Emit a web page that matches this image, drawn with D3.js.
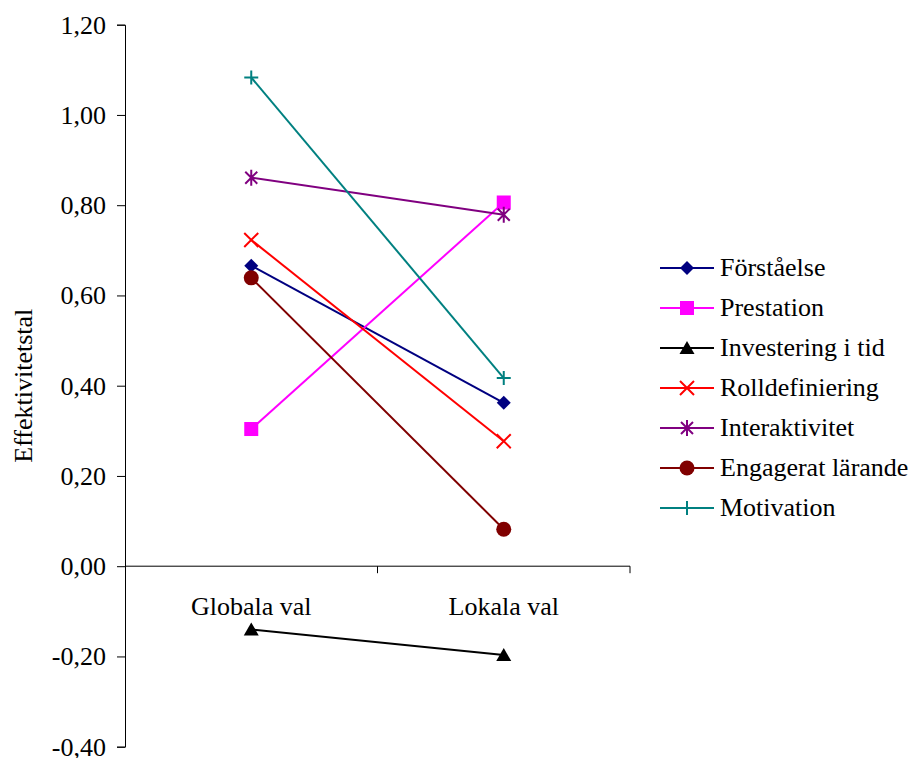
<!DOCTYPE html>
<html>
<head>
<meta charset="utf-8">
<script src="https://cdn.jsdelivr.net/npm/d3@7"></script>
<style>
  body { margin: 0; background: #fff; }
</style>
</head>
<body>
<svg id="chart" width="916" height="758"></svg>
<script>
// Categories on the x axis
const categories = ["Globala val", "Lokala val"];

// Series names, colours and marker shapes
const seriesNames = ["Förståelse", "Prestation", "Investering i tid", "Rolldefiniering", "Interaktivitet", "Engagerat lärande", "Motivation"];
const seriesColors = ["#000080", "#FF00FF", "#000000", "#FF0000", "#800080", "#800000", "#008080"];
const seriesMarkers = ["diamond", "square", "triangle", "x", "asterisk", "circle", "plus"];

// Effektivitetstal per series: [Globala val, Lokala val]
const foerstaaelse = [0.666, 0.362];
const prestation = [0.304, 0.806];
const investering = [-0.140, -0.197];
const rolldefiniering = [0.723, 0.277];
const interaktivitet = [0.861, 0.779];
const engagerat = [0.639, 0.082];
const motivation = [1.083, 0.417];
const seriesValues = [foerstaaelse, prestation, investering, rolldefiniering, interaktivitet, engagerat, motivation];

// Y axis ticks
const yTicks = [-0.4, -0.2, 0, 0.2, 0.4, 0.6, 0.8, 1.0, 1.2];

const FONT = "'Liberation Serif', 'Times New Roman', 'DejaVu Serif', serif";
const FS = 26;

const svg = d3.select("#chart");
const plotLeft = 125, plotRight = 630, plotTop = 24.7, plotBottom = 746.7;

const x = d3.scaleBand().domain(categories).range([plotLeft, plotRight]);
const y = d3.scaleLinear().domain([-0.4, 1.2]).range([plotBottom, plotTop]);
const fmt = v => d3.format(".2f")(v).replace(".", ",").replace("−", "-");

// Y axis
const yAxis = d3.axisLeft(y).tickValues(yTicks).tickSize(8).tickFormat(fmt);
const gy = svg.append("g").attr("transform", `translate(${plotLeft},0)`).call(yAxis)
  .attr("font-family", null).attr("font-size", null);
gy.select(".domain").attr("stroke", "#000").attr("stroke-width", 1);
gy.selectAll(".tick line").attr("stroke", "#000");
gy.selectAll(".tick text").attr("x", -19).attr("fill", "#000")
  .style("font-family", FONT).style("font-size", FS + "px");

// X axis at zero: line with category boundary ticks
const gx = svg.append("g");
gx.append("line").attr("x1", plotLeft).attr("x2", plotRight).attr("y1", y(0)).attr("y2", y(0))
  .attr("stroke", "#000").attr("stroke-width", 1);
const bounds = categories.map(c => x(c) + x.bandwidth());
gx.selectAll("line.tk").data(bounds).join("line").attr("class", "tk")
  .attr("x1", d => d).attr("x2", d => d).attr("y1", y(0)).attr("y2", y(0) + 7)
  .attr("stroke", "#000");
gx.selectAll("text").data(categories).join("text")
  .attr("x", d => x(d) + x.bandwidth() / 2).attr("y", y(0) + 49)
  .attr("text-anchor", "middle")
  .style("font-family", FONT).style("font-size", FS + "px").text(d => d);

// Y axis title
svg.append("text").attr("transform", `translate(32,${(plotTop + plotBottom) / 2}) rotate(-90)`)
  .attr("text-anchor", "middle")
  .style("font-family", FONT).style("font-size", FS + "px").text("Effektivitetstal");

// Marker drawing
function drawMarker(g, type, color, cx, cy) {
  const s = 7;
  if (type === "diamond") {
    g.append("path").attr("d", `M${cx},${cy - s}L${cx + s},${cy}L${cx},${cy + s}L${cx - s},${cy}Z`).attr("fill", color);
  } else if (type === "square") {
    g.append("rect").attr("x", cx - 7).attr("y", cy - 7).attr("width", 14).attr("height", 14).attr("fill", color);
  } else if (type === "triangle") {
    g.append("path").attr("d", `M${cx},${cy - 7}L${cx + 7.5},${cy + 6}L${cx - 7.5},${cy + 6}Z`).attr("fill", color);
  } else if (type === "circle") {
    g.append("circle").attr("cx", cx).attr("cy", cy).attr("r", 7.5).attr("fill", color);
  } else if (type === "x") {
    g.append("path").attr("d", `M${cx - 7},${cy - 7}L${cx + 7},${cy + 7}M${cx - 7},${cy + 7}L${cx + 7},${cy - 7}`)
      .attr("stroke", color).attr("stroke-width", 2);
  } else if (type === "asterisk") {
    g.append("path").attr("d", `M${cx - 6},${cy - 6}L${cx + 6},${cy + 6}M${cx - 6},${cy + 6}L${cx + 6},${cy - 6}M${cx},${cy - 8}L${cx},${cy + 8}`)
      .attr("stroke", color).attr("stroke-width", 2);
  } else if (type === "plus") {
    g.append("path").attr("d", `M${cx - 7},${cy}L${cx + 7},${cy}M${cx},${cy - 7}L${cx},${cy + 7}`)
      .attr("stroke", color).attr("stroke-width", 2);
  }
}

// Series lines and markers
const line = d3.line().x((d, i) => x(categories[i]) + x.bandwidth() / 2).y(d => y(d));
seriesValues.forEach((vals, k) => {
  const g = svg.append("g");
  g.append("path").datum(vals).attr("d", line).attr("fill", "none")
    .attr("stroke", seriesColors[k]).attr("stroke-width", 2);
  vals.forEach((v, i) => drawMarker(g, seriesMarkers[k], seriesColors[k], x(categories[i]) + x.bandwidth() / 2, y(v)));
});

// Legend
const legend = svg.append("g");
seriesNames.forEach((name, k) => {
  const cy = 268 + k * 40;
  const g = legend.append("g");
  g.append("line").attr("x1", 660).attr("x2", 714).attr("y1", cy).attr("y2", cy)
    .attr("stroke", seriesColors[k]).attr("stroke-width", 2);
  drawMarker(g, seriesMarkers[k], seriesColors[k], 687, cy);
  g.append("text").attr("x", 720).attr("y", cy + 8)
    .style("font-family", FONT).style("font-size", FS + "px").text(name);
});
</script>
</body>
</html>
